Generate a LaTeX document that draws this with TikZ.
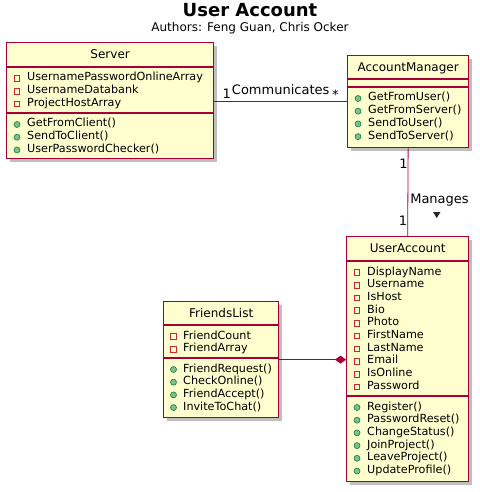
\documentclass[tikz,border=0pt]{standalone}
\usepackage{fontspec}
\setmainfont{DejaVu Sans}
\usetikzlibrary{arrows.meta,shadows}

\begin{document}
\begin{tikzpicture}[x=1pt,y=-1pt]
  \definecolor{umlfill}{HTML}{FEFECE}
  \definecolor{umlline}{HTML}{A80036}
  \definecolor{privred}{HTML}{C82930}
  \definecolor{pubfill}{HTML}{84BE84}
  \definecolor{publine}{HTML}{038048}
  \tikzstyle{klass}=[rectangle,draw=umlline,line width=1.3pt,fill=umlfill,anchor=north west,inner sep=0pt,
    drop shadow={shadow xshift=3pt,shadow yshift=-3pt,opacity=0.25,fill=black}]
  \tikzstyle{kname}=[font=\fontsize{12}{14}\selectfont,inner sep=0pt,anchor=base]
  \tikzstyle{member}=[font=\fontsize{11.2}{13}\selectfont,anchor=west,inner sep=0pt,text height=8pt,text depth=2pt]
  \tikzstyle{sep}=[draw=umlline,line width=1.1pt]
  \tikzstyle{priv}=[draw=privred,line width=0.8pt]
  \tikzstyle{pub}=[fill=pubfill,draw=publine,line width=0.6pt]
  \tikzstyle{rel}=[draw=umlline,line width=0.8pt]
  \tikzstyle{mult}=[font=\fontsize{13}{15}\selectfont,inner sep=0pt]

  \useasboundingbox (0,0) rectangle (479,492);

  % title
  \node (title) at (250,17) [anchor=base,inner sep=0pt,font=\bfseries\fontsize{18}{20}\selectfont] {User Account};
  \node (authors) at (250,31.5) [anchor=base,inner sep=0pt,font=\fontsize{12}{14}\selectfont] {Authors: Feng Guan, Chris Ocker};

  % Server
  \node (server) at (6,42) [klass,minimum width=207pt,minimum height=116pt] {};
  \node (serverName) at ([yshift=-16.5pt]server.north) [kname] {Server};
  \draw[sep] (server.west |- 0,67) -- (server.east |- 0,67);
  \draw[sep] (server.west |- 0,113) -- (server.east |- 0,113);
  \foreach \m [count=\i from 0] in {UsernamePasswordOnlineArray,UsernameDatabank,ProjectHostArray} {
    \draw[priv] (17,78.5+12.7*\i) ++(-2.8,-2.8) rectangle ++(5.6,5.6);
    \node (serverAttr\i) at (27,78+12.7*\i) [member] {\m};
  }
  \foreach \m [count=\i from 0] in {GetFromClient(),SendToClient(),UserPasswordChecker()} {
    \draw[pub] (17,124.5+12.7*\i) circle (3);
    \node (serverOp\i) at (27,124+12.7*\i) [member] {\m};
  }

  % AccountManager
  \node (mgr) at (347,55) [klass,minimum width=121pt,minimum height=92pt] {};
  \node (mgrName) at ([yshift=-16.5pt]mgr.north) [kname] {AccountManager};
  \draw[sep] (mgr.west |- 0,79) -- (mgr.east |- 0,79);
  \draw[sep] (mgr.west |- 0,87) -- (mgr.east |- 0,87);
  \foreach \m [count=\i from 0] in {GetFromUser(),GetFromServer(),SendToUser(),SendToServer()} {
    \draw[pub] (358,98.5+12.7*\i) circle (3);
    \node (mgrOp\i) at (368,98+12.7*\i) [member] {\m};
  }

  % UserAccount
  \node (ua) at (346,236) [klass,minimum width=122pt,minimum height=245pt] {};
  \node (uaName) at ([yshift=-16.5pt]ua.north) [kname] {UserAccount};
  \draw[sep] (ua.west |- 0,261) -- (ua.east |- 0,261);
  \draw[sep] (ua.west |- 0,396) -- (ua.east |- 0,396);
  \foreach \m [count=\i from 0] in {DisplayName,Username,IsHost,Bio,Photo,FirstName,LastName,Email,IsOnline,Password} {
    \draw[priv] (357,272.5+12.7*\i) ++(-2.8,-2.8) rectangle ++(5.6,5.6);
    \node (uaAttr\i) at (367,272+12.7*\i) [member] {\m};
  }
  \foreach \m [count=\i from 0] in {Register(),PasswordReset(),ChangeStatus(),JoinProject(),LeaveProject(),UpdateProfile()} {
    \draw[pub] (357,407.5+12.7*\i) circle (3);
    \node (uaOp\i) at (367,407+12.7*\i) [member] {\m};
  }

  % FriendsList
  \node (friends) at (163,301) [klass,minimum width=115pt,minimum height=116pt] {};
  \node (friendsName) at ([yshift=-16.5pt]friends.north) [kname] {FriendsList};
  \draw[sep] (friends.west |- 0,325) -- (friends.east |- 0,325);
  \draw[sep] (friends.west |- 0,358) -- (friends.east |- 0,358);
  \foreach \m [count=\i from 0] in {FriendCount,FriendArray} {
    \draw[priv] (173.5,336.5+12.7*\i) ++(-2.8,-2.8) rectangle ++(5.6,5.6);
    \node (friendsAttr\i) at (183,336+12.7*\i) [member] {\m};
  }
  \foreach \m [count=\i from 0] in {FriendRequest(),CheckOnline(),FriendAccept(),InviteToChat()} {
    \draw[pub] (173.5,369.5+12.7*\i) circle (3);
    \node (friendsOp\i) at (183,369+12.7*\i) [member] {\m};
  }

  % relations
  \draw[rel] (server.east |- mgr.west) -- (mgr.west)
    node (commFrom) [mult,pos=0,anchor=base west,xshift=8pt,yshift=3pt] {1}
    node (commLabel) [mult,midway,anchor=base,yshift=7.5pt] {Communicates}
    node (commTo) [mult,pos=1,anchor=base east,xshift=-8pt,yshift=2pt] {*};
  \draw[rel] (mgr.south) -- (ua.north)
    node (manFrom) [mult,pos=0,anchor=base east,yshift=-20pt] {1}
    node (manLabel) [mult,midway,anchor=base west,xshift=2pt,yshift=-11.5pt] {Manages}
    node (manTo) [mult,pos=1,anchor=base east,yshift=11pt] {1};
  \fill[black!85] (433,212) -- (440.5,212) -- (436.75,218) -- cycle;
  \draw[rel,-{Diamond[length=11pt,width=8pt]}] (friends.east) -- (friends.east -| ua.west);
\end{tikzpicture}
\end{document}
